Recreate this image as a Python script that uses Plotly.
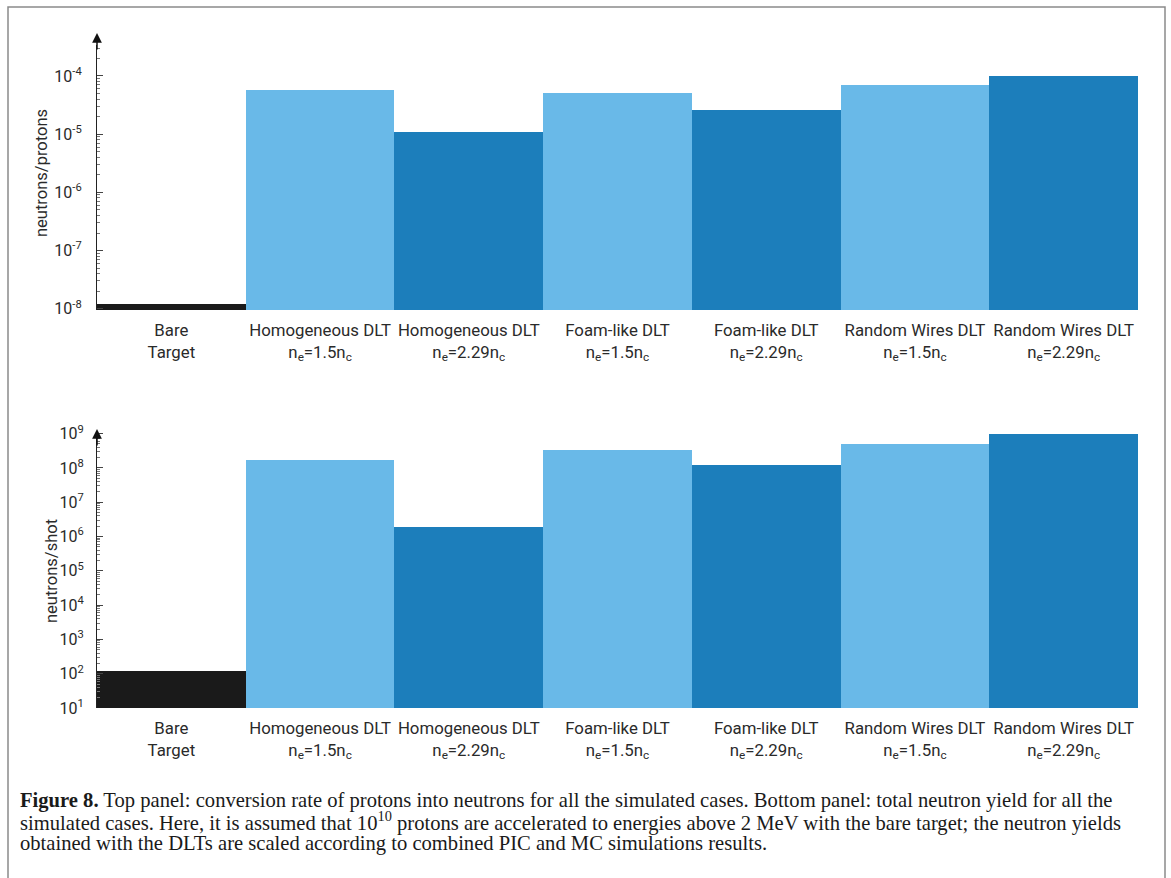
import plotly.graph_objects as go

# Simulated cases (x categories)
categories = [
    "Bare<br>Target",
    "Homogeneous DLT<br>n<sub>e</sub>=1.5n<sub>c</sub>",
    "Homogeneous DLT<br>n<sub>e</sub>=2.29n<sub>c</sub>",
    "Foam-like DLT<br>n<sub>e</sub>=1.5n<sub>c</sub>",
    "Foam-like DLT<br>n<sub>e</sub>=2.29n<sub>c</sub>",
    "Random Wires DLT<br>n<sub>e</sub>=1.5n<sub>c</sub>",
    "Random Wires DLT<br>n<sub>e</sub>=2.29n<sub>c</sub>",
]

# Conversion rate of protons into neutrons
neutrons_per_proton = [1.2e-8, 5.7e-5, 1.1e-5, 5.0e-5, 2.55e-5, 7.0e-5, 1.0e-4]

# Total neutron yield per shot
neutrons_per_shot = [1.2e2, 1.7e8, 1.95e6, 3.4e8, 1.2e8, 5.1e8, 9.8e8]

# Decade tick exponents for each panel
top_exponents = [-8, -7, -6, -5, -4]
bottom_exponents = [1, 2, 3, 4, 5, 6, 7, 8, 9]

bar_colors = ["#1a1a1a", "#69b9e8", "#1c7ebb", "#69b9e8", "#1c7ebb", "#69b9e8", "#1c7ebb"]

caption_lines = [
    "<b>Figure 8.</b> Top panel: conversion rate of protons into neutrons for all the simulated cases. "
    "Bottom panel: total neutron yield for all the",
    "simulated cases. Here, it is assumed that 10<sup>10</sup> protons are accelerated to energies above 2 MeV "
    "with the bare target; the neutron yields",
    "obtained with the DLTs are scaled according to combined PIC and MC simulations results.",
]

W, H = 1171, 878


def px_x(p):
    return p / W


def px_y(p):
    return 1 - p / H


def decade_labels(exps):
    return [f"10<sup>{e}</sup>" for e in exps]


FONT = "Roboto"
TXT = "#2a2a2a"

fig = go.Figure()

fig.add_trace(go.Bar(
    x=categories, y=neutrons_per_proton, marker=dict(color=bar_colors, line=dict(width=0)),
    xaxis="x", yaxis="y", showlegend=False,
))
fig.add_trace(go.Bar(
    x=categories, y=neutrons_per_shot, marker=dict(color=bar_colors, line=dict(width=0)),
    xaxis="x2", yaxis="y2", showlegend=False,
))

x_dom = [px_x(97), px_x(1138)]

common_x = dict(
    domain=x_dom, type="category", showline=False, ticks="", showgrid=False,
    zeroline=False, automargin=False, ticklabelstandoff=8,
    tickfont=dict(family=FONT, size=16.8, color=TXT),
)
common_y = dict(
    type="log", showgrid=False, zeroline=False, showline=True, linecolor="#222", linewidth=1.2,
    ticks="inside", ticklen=6, tickcolor="#444", tickwidth=1, automargin=False,
    minor=dict(ticks="inside", ticklen=3, tickcolor="#777", tickwidth=1, dtick="D1", showgrid=False),
    tickfont=dict(family=FONT, size=16, color=TXT),
)

fig.update_layout(
    width=W, height=H, margin=dict(l=0, r=0, t=0, b=0, pad=0, autoexpand=False),
    paper_bgcolor="white", plot_bgcolor="white",
    bargap=0,
    xaxis=dict(**common_x, anchor="y"),
    yaxis=dict(**common_y, domain=[px_y(310), px_y(45)], range=[-8.022, -3.469], anchor="x",
               tickvals=[10.0 ** e for e in top_exponents], ticktext=decade_labels(top_exponents),
               ticklabelstandoff=11),
    xaxis2=dict(**common_x, anchor="y2"),
    yaxis2=dict(**common_y, domain=[px_y(708), px_y(432)], range=[1.0, 9.047], anchor="x2",
                tickvals=[10.0 ** e for e in bottom_exponents], ticktext=decade_labels(bottom_exponents),
                ticklabelstandoff=9),
)

annotations = [
    # axis titles
    dict(text="neutrons/protons", x=px_x(42), y=px_y(173), xref="paper", yref="paper",
         xanchor="center", yanchor="middle",
         textangle=-90, showarrow=False, font=dict(family=FONT, size=16.5, color=TXT)),
    dict(text="neutrons/shot", x=px_x(51), y=px_y(571), xref="paper", yref="paper",
         xanchor="center", yanchor="middle",
         textangle=-90, showarrow=False, font=dict(family=FONT, size=16.5, color=TXT)),
    # arrow heads on the y axes
    dict(text="", x=px_x(97), y=px_y(33), xref="paper", yref="paper", showarrow=True,
         ax=0, ay=18, arrowhead=2, arrowsize=1.3, arrowwidth=1.5, arrowcolor="#111"),
    dict(text="", x=px_x(97), y=px_y(429), xref="paper", yref="paper", showarrow=True,
         ax=0, ay=18, arrowhead=2, arrowsize=1.3, arrowwidth=1.5, arrowcolor="#111"),
]

# figure caption, one annotation per line
for i, line in enumerate(caption_lines):
    annotations.append(dict(
        text=line, x=px_x(18), y=px_y(800 + 21.7 * i), xref="paper", yref="paper",
        xanchor="left", yanchor="middle", align="left", showarrow=False,
        font=dict(family="Liberation Serif", size=20.6, color="#1a1a1a"),
    ))

fig.update_layout(annotations=annotations)

# outer frame
fig.add_shape(type="rect", xref="paper", yref="paper",
              x0=px_x(8), x1=px_x(1165), y0=-0.05, y1=px_y(7),
              line=dict(color="#8a8a8a", width=1.5), fillcolor="rgba(0,0,0,0)", layer="below")

fig.write_html("out.html")
